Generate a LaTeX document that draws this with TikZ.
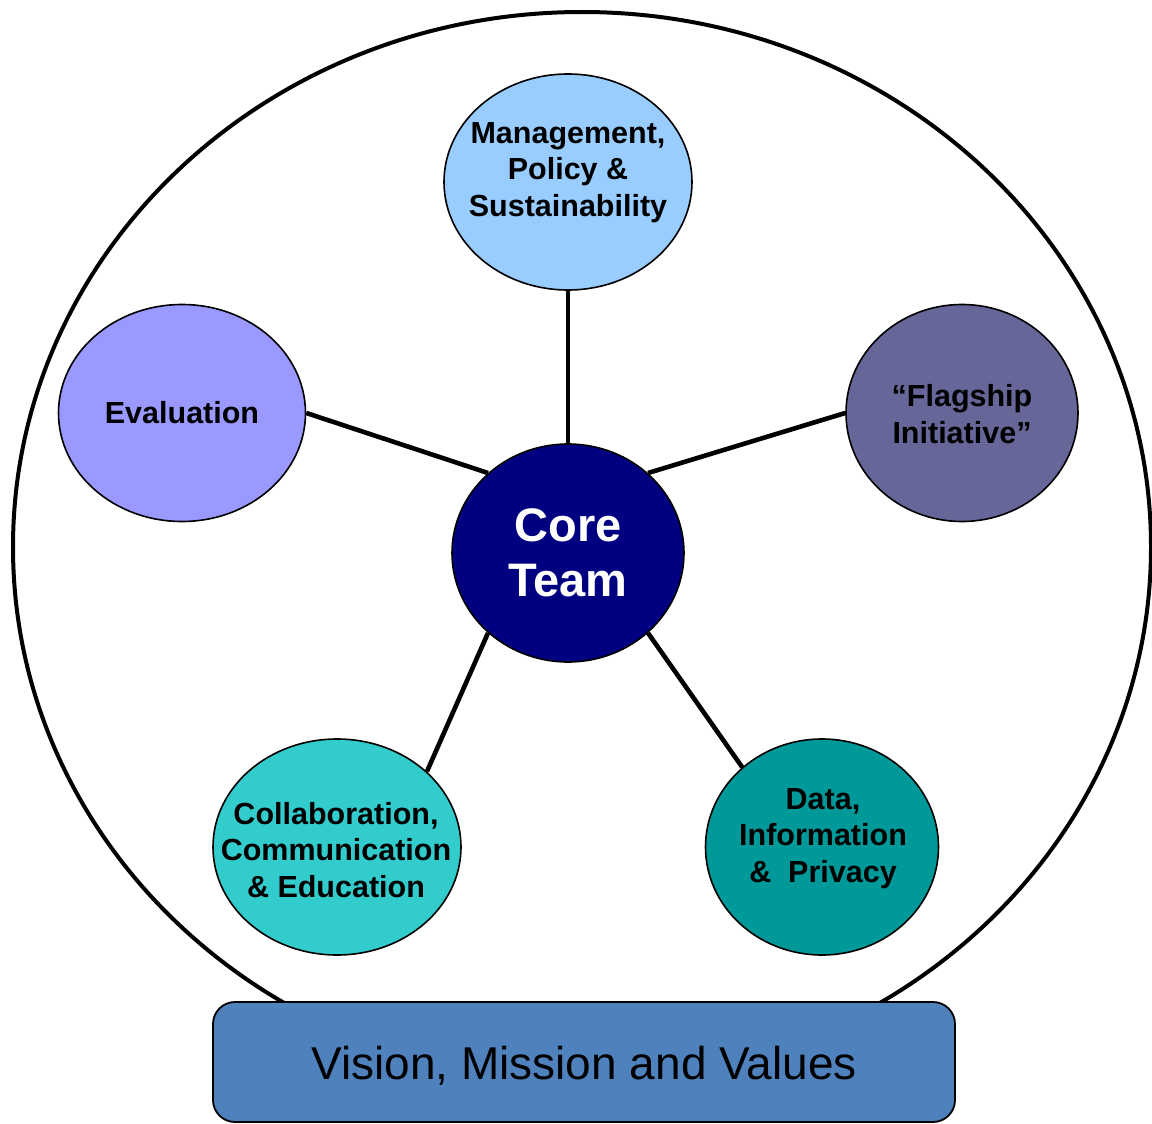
\documentclass[tikz,border=0pt]{standalone}
\usepackage{fontspec}
\setmainfont{Liberation Sans}
\usetikzlibrary{shapes.geometric}
\definecolor{mgmtc}{HTML}{99CCFF}
\definecolor{evalc}{HTML}{9999FF}
\definecolor{flagc}{HTML}{666699}
\definecolor{corec}{HTML}{000080}
\definecolor{collc}{HTML}{33CCCC}
\definecolor{datac}{HTML}{009999}
\definecolor{boxc}{HTML}{4F81BD}
\begin{document}
\begin{tikzpicture}[x=1pt,y=-1pt,
  bub/.style={ellipse, draw=black, line width=1.6pt, inner sep=0pt},
  lbl/.style={font=\bfseries\fontsize{30.5}{36.5}\selectfont, align=center, inner sep=0pt, text=black},
  link/.style={line width=4.6pt}]
\useasboundingbox (0,0) rectangle (1152,1124);
\node[ellipse, draw=black, line width=4pt, minimum width=1138pt, minimum height=1070pt, inner sep=0pt] (frame) at (582,547) {};
% bubbles
\node[bub, fill=mgmtc, minimum width=248pt, minimum height=216pt] (mgmt) at (568,182) {};
\node[bub, fill=evalc, minimum width=247pt, minimum height=217pt] (eval) at (182,413) {};
\node[bub, fill=flagc, minimum width=232pt, minimum height=217pt] (flag) at (962,413) {};
\node[bub, fill=corec, minimum width=232pt, minimum height=218pt] (core) at (568,553) {};
\node[bub, fill=collc, minimum width=248pt, minimum height=216pt] (coll) at (337,847) {};
\node[bub, fill=datac, minimum width=233pt, minimum height=216pt] (data) at (822,847) {};
% connectors
\draw[link] (mgmt.south) -- (core.north);
\draw[link] (eval.east) -- (core.135);
\draw[link] (flag.west) -- (core.45);
\draw[link] (coll.40) -- (core.225);
\draw[link] (data.135) -- (core.315);
% labels
\node[lbl] (mgmtt) at (568,172.5) {Management,\\Policy \&\\Sustainability};
\node[lbl, text height=22pt, text depth=0pt] (evalt) at (182,412) {Evaluation};
\node[lbl] (flagt) at (962,414) {“Flagship\\Initiative”};
\node[lbl, text=white, font=\bfseries\fontsize{47}{55}\selectfont] (coret) at (568,553) {Core\\Team};
\node[lbl] (collt) at (336,850) {Collaboration,\\Communication\\\& Education};
\node[lbl] (datat) at (823,838.5) {Data,\\Information\\\&\ \ Privacy};
% base box
\node[draw=black, line width=1.8pt, fill=boxc, rounded corners=22pt, minimum width=742pt, minimum height=120pt, inner sep=0pt, text height=35pt, text depth=0pt, font=\fontsize{46}{55}\selectfont] (vmv) at (584,1062) {Vision, Mission and Values};
\end{tikzpicture}
\end{document}
